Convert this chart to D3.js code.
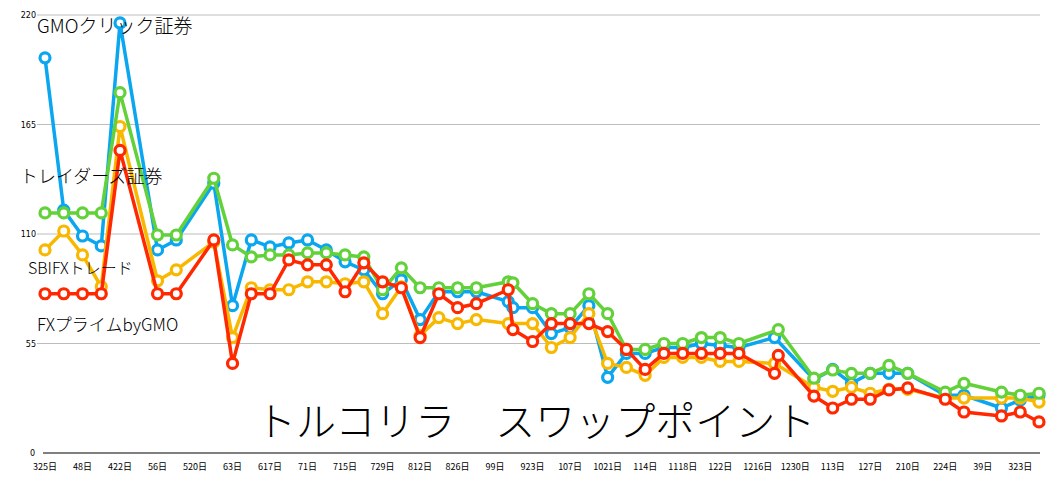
<!DOCTYPE html>
<html><head><meta charset="utf-8">
<script src="https://cdn.jsdelivr.net/npm/d3@7"></script>
<style>body{margin:0;background:#fff}</style>
</head><body><div id="chart"></div>
<script>
var weeks = [0,1,2,3,4,6,7,9,10,11,12,13,14,15,16,17,18,19,20,21,22,23,24.7,24.95,26,27,28,29,30,31,32,33,34,35,36,37,38.9,39.1,41,42,43,44,45,46,48,49,51,52,53];
var tickWeeks = [0,2,4,6,8,10,12,14,16,18,20,22,24,26,28,30,32,34,36,38,40,42,44,46,48,50,52];
var tickLabels = ["325日","48日","422日","56日","520日","63日","617日","71日","715日","729日","812日","826日","99日","923日","107日","1021日","114日","1118日","122日","1216日","1230日","113日","127日","210日","224日","39日","323日"];
var yTicks = [0,55,110,165,220];

var gmo = [198.5,122,109,104,216,102,107,135.5,74,107,103.5,105.5,107,102,96,92,80,87,67,81,81,81,76,73,73,60,63,74,38,50,50,53,53,55,54,53,58,null,37,42,35,40,40,40,29,29,22.6,26.6,29];
var sbi = [102,111.5,99.5,83.5,164,86.5,92,106,58,83,82,82,86,86,85,86,70,83.5,59,68,65,67,65,null,65,53,58,70,45,43,39,48,48,48,46,46,45,null,33,31,33,30,32,32,27.6,27.6,27.6,27.6,25.6];
var traders = [120.6,120.6,120.6,120.6,181,109.5,109.5,138,104.5,98.5,99.5,99.5,100.5,100.5,99.5,98.5,82,93,83,83,83,83,86,85.5,75,70,70,80,70,52,52,55,55,58,58,55,null,62,37.6,41.7,40,40,44,40,30.6,35,30.6,29,30];
var fxprime = [80,80,80,80,152,80,80,107,45,80,80,97,94.5,94.5,81,95.5,86,83,58,80,73,75,82,62,56,65,65,65,61,52,42,50,50,50,50,50,40,49,28.6,22.6,27,27,31.7,32.7,27,20.6,18.6,20.6,15.6];

var series = [
  {name: "GMOクリック証券", values: gmo, color: "#0aa6f0"},
  {name: "SBIFXトレード", values: sbi, color: "#f8b800"},
  {name: "トレイダーズ証券", values: traders, color: "#62d13a"},
  {name: "FXプライムbyGMO", values: fxprime, color: "#ff2800"}
];

var width = 1058, height = 501;
var svg = d3.select("#chart").append("svg").attr("width", width).attr("height", height)
  .style("font-family", "'Noto Sans CJK JP', sans-serif");

var x = d3.scaleLinear().domain([0, 53]).range([45, 1039]);
var y = d3.scaleLinear().domain([0, 220]).range([453, 15]);

// gridlines
svg.selectAll(".grid").data(yTicks.slice(1)).enter().append("line")
  .attr("x1", 37).attr("x2", 1040)
  .attr("y1", d => y(d)).attr("y2", d => y(d))
  .attr("stroke", "#bdbdbd").attr("stroke-width", 1);

svg.selectAll(".ylab").data(yTicks).enter().append("text")
  .attr("x", d => d === 0 ? 35 : 36).attr("y", d => y(d) + 3)
  .attr("text-anchor", "end").attr("font-size", 8).attr("font-family", "'DejaVu Sans', sans-serif")
  .text(d => d);

svg.append("line").attr("x1", 43).attr("x2", 1040).attr("y1", y(0)).attr("y2", y(0))
  .attr("stroke", "#000").attr("stroke-width", 1);

svg.selectAll(".xlab").data(tickWeeks).enter().append("text")
  .attr("x", d => x(d)).attr("y", 470)
  .attr("text-anchor", "middle").attr("font-size", 9)
  .text((d, i) => tickLabels[i]);

var line = d3.line().x(d => x(d.w)).y(d => y(d.v));

series.forEach(s => {
  var pts = weeks.map((w, i) => ({w: w, v: s.values[i]})).filter(d => d.v !== null);
  var g = svg.append("g");
  g.append("path").datum(pts).attr("d", line)
    .attr("fill", "none").attr("stroke", s.color).attr("stroke-width", 3.5)
    .attr("stroke-linejoin", "round");
  g.selectAll("circle").data(pts).enter().append("circle")
    .attr("cx", d => x(d.w)).attr("cy", d => y(d.v)).attr("r", 5)
    .attr("fill", "#fff").attr("stroke", s.color).attr("stroke-width", 3.2);
});

// series labels
var labels = [
  {t: "GMOクリック証券", x: 37, y: 33, s: 19},
  {t: "トレイダーズ証券", x: 20, y: 183, s: 18},
  {t: "SBIFXトレード", x: 28, y: 274, s: 16},
  {t: "FXプライムbyGMO", x: 37, y: 331, s: 17}
];
svg.selectAll(".slab").data(labels).enter().append("text")
  .attr("x", d => d.x).attr("y", d => d.y).attr("font-size", d => d.s)
  .attr("font-weight", 300).attr("fill", "#000").text(d => d.t);

svg.append("text").attr("x", 256).attr("y", 436).attr("font-size", 40)
  .attr("font-weight", 300).attr("fill", "#000").text("トルコリラ　スワップポイント");
</script></body></html>
